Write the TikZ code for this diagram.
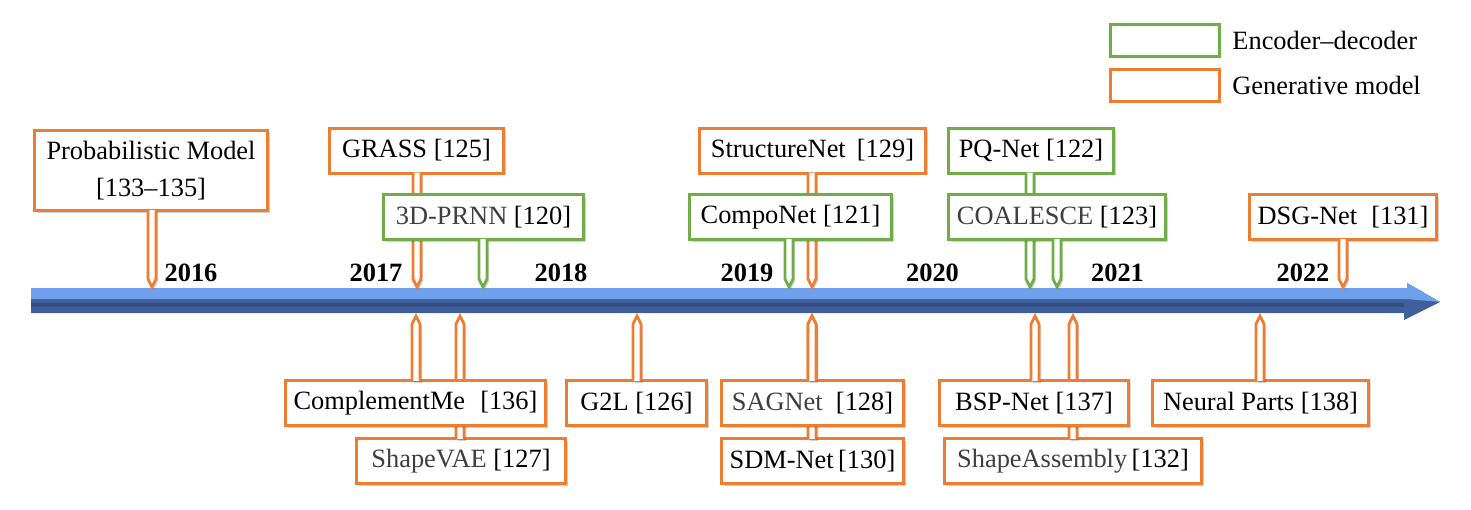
\documentclass[tikz,border=0pt]{standalone}
\usepackage{fontspec}
\setmainfont{Liberation Serif}
\usepackage{tikz}
\usetikzlibrary{calc,positioning,shadows}
\definecolor{encgreen}{RGB}{112,173,71}
\definecolor{genorange}{RGB}{237,125,49}
\definecolor{axislight}{RGB}{112,160,236}
\definecolor{axisdark}{RGB}{63,96,155}
\definecolor{axisdeep}{RGB}{50,78,132}
\definecolor{namegray}{RGB}{62,62,62}

\begin{document}
\begin{tikzpicture}[x=0.5pt, y=-0.5pt,
  genbox/.style={draw=genorange, line width=1.5pt, fill=white, inner sep=0pt, minimum height=22.5pt,
    align=center, font=\fontsize{13.2}{16}\selectfont,
    drop shadow={shadow xshift=1pt, shadow yshift=-1pt, fill=black, opacity=0.18}},
  encbox/.style={genbox, draw=encgreen},
  legbox/.style={draw, line width=1.5pt, fill=white, minimum width=54.5pt, minimum height=16pt},
  stemdown/.style={fill=white, line width=1.4pt,
    drop shadow={shadow xshift=1pt, shadow yshift=-1pt, fill=black, opacity=0.18},
    to path={($(\tikztostart.south -| \tikztotarget)+(-4,-2)$) -- ($(\tikztotarget)+(-4,-8)$)
      -- (\tikztotarget) -- ($(\tikztotarget)+(4,-8)$) -- ($(\tikztostart.south -| \tikztotarget)+(4,-2)$)}},
  stemup/.style={fill=white, line width=1.4pt,
    drop shadow={shadow xshift=1pt, shadow yshift=-1pt, fill=black, opacity=0.18},
    to path={($(\tikztostart.north -| \tikztotarget)+(-4,2)$) -- ($(\tikztotarget)+(-4,8)$)
      -- (\tikztotarget) -- ($(\tikztotarget)+(4,8)$) -- ($(\tikztostart.north -| \tikztotarget)+(4,2)$)}},
  yearlbl/.style={font=\fontsize{13.2}{16}\selectfont\bfseries, inner sep=0pt},
  legendlbl/.style={font=\fontsize{13.2}{16}\selectfont, inner sep=0pt}
]
\useasboundingbox (0,0) rectangle (1471,509);

% time axis
\fill[axisdark] (31,288) -- (1407,288) -- (1407,283) -- (1440,302) -- (1404,320) -- (1404,313) -- (31,313) -- cycle;
\fill[axisdeep] (31,303) -- (1404,303) -- (1404,307) -- (31,307) -- cycle;
\fill[axislight] (31,288) -- (1407,288) -- (1407,283) -- (1440,302) -- (1407,299) -- (31,299) -- cycle;

\node[yearlbl] (y2016) at (191,273) {2016};
\node[yearlbl] (y2017) at (376,273) {2017};
\node[yearlbl] (y2018) at (561,273) {2018};
\node[yearlbl] (y2019) at (747,273) {2019};
\node[yearlbl] (y2020) at (932.5,273) {2020};
\node[yearlbl] (y2021) at (1117.5,273) {2021};
\node[yearlbl] (y2022) at (1303,273) {2022};

% legend
\node[legbox, draw=encgreen] (encleg) at (1165,40) {};
\node[legendlbl, right=5.5pt of encleg] (enctext) {Encoder–decoder};
\node[legbox, draw=genorange] (genleg) at (1165,85.5) {};
\node[legendlbl, right=5.5pt of genleg] (gentext) {Generative model};

% above the axis
\node[genbox, minimum width=116.5pt, minimum height=40pt, font=\fontsize{13.2}{18.5}\selectfont] (prob) at (151,170.5) {Probabilistic Model\\{}[133–135]};
\coordinate (prob-tip) at (152,287);
\draw[stemdown, draw=genorange] (prob) to (prob-tip);

\node[genbox, minimum width=87pt] (grass) at (416.5,150.5) {GRASS [125]};
\coordinate (grass-tip) at (417,287);
\draw[stemdown, draw=genorange] (grass) to (grass-tip);

\node[encbox, minimum width=100pt] (prnn) at (483.5,217) {\textcolor{namegray}{3D-PRNN} [120]};
\coordinate (prnn-tip) at (483,287);
\draw[stemdown, draw=encgreen] (prnn) to (prnn-tip);

\node[genbox, minimum width=113pt] (strnet) at (812.5,150.5) {StructureNet\hspace{0.42em}[129]};
\coordinate (strnet-tip) at (812,287);
\draw[stemdown, draw=genorange] (strnet) to (strnet-tip);

\node[encbox, minimum width=101pt] (compo) at (790.5,217) {CompoNet [121]};
\coordinate (compo-tip) at (789,287);
\draw[stemdown, draw=encgreen] (compo) to (compo-tip);

\node[encbox, minimum width=82.5pt] (pqnet) at (1031,150.5) {PQ-Net [122]};
\coordinate (pqnet-tip) at (1030,287);
\draw[stemdown, draw=encgreen] (pqnet) to (pqnet-tip);

\node[encbox, minimum width=108.5pt] (coal) at (1057,217) {\textcolor{namegray}{COALESCE} [123]};
\coordinate (coal-tip) at (1057,287);
\draw[stemdown, draw=encgreen] (coal) to (coal-tip);

\node[genbox, minimum width=93.5pt] (dsg) at (1343,217) {DSG-Net\hspace{0.53em}[131]};
\coordinate (dsg-tip) at (1343,287);
\draw[stemdown, draw=genorange] (dsg) to (dsg-tip);

% below the axis
\node[genbox, minimum width=104.5pt] (svae) at (461,461) {\textcolor{namegray}{ShapeVAE} [127]};
\coordinate (svae-tip) at (460,316);
\draw[stemup, draw=genorange] (svae) to (svae-tip);

\node[genbox, minimum width=130pt] (compl) at (415.5,403) {ComplementMe\hspace{0.57em}[136]};
\coordinate (compl-tip) at (416,316);
\draw[stemup, draw=genorange] (compl) to (compl-tip);

\node[genbox, minimum width=70pt] (gtwol) at (636.5,403) {G2L [126]};
\coordinate (gtwol-tip) at (637,316);
\draw[stemup, draw=genorange] (gtwol) to (gtwol-tip);

\node[genbox, minimum width=91pt] (sdm) at (812.5,461) {SDM-Net\,[130]};
\coordinate (sdm-tip) at (812,316);
\draw[stemup, draw=genorange] (sdm) to (sdm-tip);

\node[genbox, minimum width=91pt] (sag) at (812.5,403) {\textcolor{namegray}{SAGNet}\hspace{0.5em}[128]};
\coordinate (sag-tip) at (812,316);
\draw[stemup, draw=genorange] (sag) to (sag-tip);

\node[genbox, minimum width=128.5pt] (sasm) at (1073,461) {\textcolor{namegray}{ShapeAssembly}\,[132]};
\coordinate (sasm-tip) at (1073,316);
\draw[stemup, draw=genorange] (sasm) to (sasm-tip);

\node[genbox, minimum width=94.5pt] (bsp) at (1034,403) {BSP-Net [137]};
\coordinate (bsp-tip) at (1035,316);
\draw[stemup, draw=genorange] (bsp) to (bsp-tip);

\node[genbox, minimum width=108pt] (nparts) at (1260.5,403) {Neural Parts [138]};
\coordinate (nparts-tip) at (1260,316);
\draw[stemup, draw=genorange] (nparts) to (nparts-tip);
\end{tikzpicture}
\end{document}
